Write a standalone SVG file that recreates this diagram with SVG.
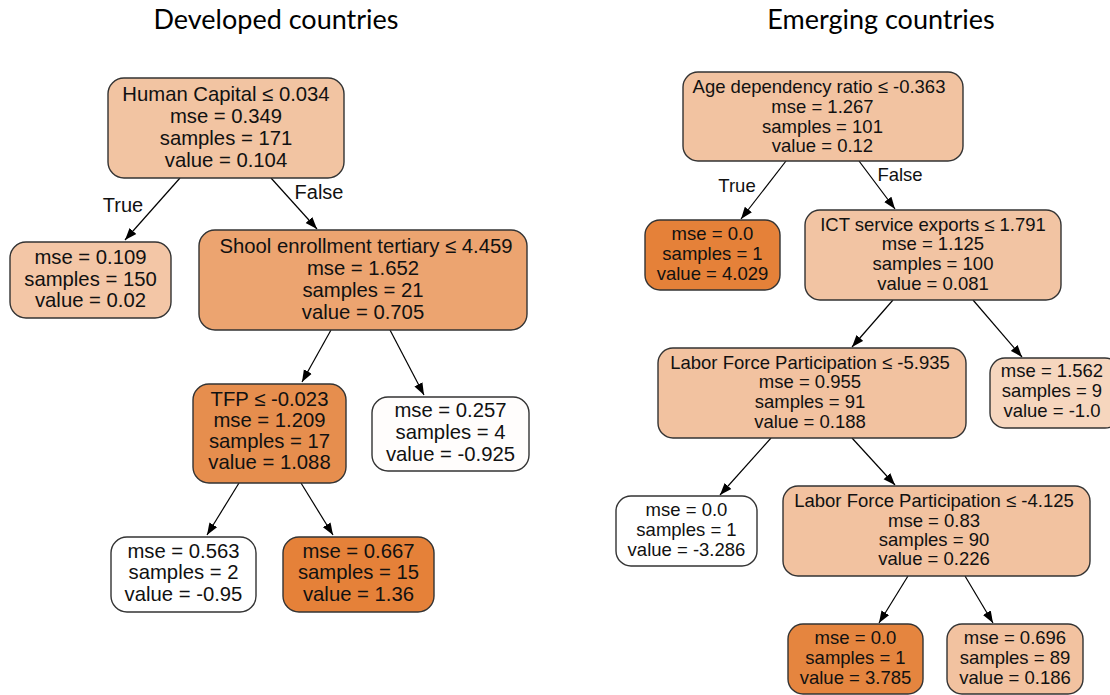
<svg xmlns="http://www.w3.org/2000/svg" width="1110" height="695" viewBox="0 0 1110 695">
<defs>
<marker id="ah" markerWidth="12" markerHeight="10" refX="12" refY="5" orient="auto" markerUnits="userSpaceOnUse">
<path d="M0,0.5 L12,5 L0,9.5 Z" fill="#000"/>
</marker>
<style>
.n{stroke:#333;stroke-width:1.4}
.t{font-family:"Liberation Sans",Arial,sans-serif;font-size:20.3px;fill:#111;text-anchor:middle}
.r{font-family:"Liberation Sans",Arial,sans-serif;font-size:18.5px;fill:#111;text-anchor:middle}
.h{font-family:Lato,"Liberation Sans",sans-serif;font-size:27px;fill:#000;text-anchor:middle}
.e{stroke:#000;stroke-width:1.2;fill:none;marker-end:url(#ah)}
.lbl{font-family:"Liberation Sans",Arial,sans-serif;font-size:20px;fill:#111;text-anchor:middle}
</style>
</defs>
<rect width="1110" height="695" fill="#fff"/>
<text class="h" x="276" y="29">Developed countries</text>
<text class="h" x="881" y="29">Emerging countries</text>

<g id="connectors">
<line class="e" x1="180" y1="178" x2="125" y2="240"/>
<line class="e" x1="271" y1="178" x2="317" y2="229"/>
<line class="e" x1="331" y1="330" x2="302" y2="382"/>
<line class="e" x1="390" y1="330" x2="424" y2="395"/>
<line class="e" x1="239" y1="483" x2="207" y2="535"/>
<line class="e" x1="301" y1="483" x2="333" y2="535"/>
<text class="lbl" x="123" y="212">True</text>
<text class="lbl" x="319" y="199">False</text>

<line class="e" x1="786" y1="161" x2="741" y2="219"/>
<line class="e" x1="859" y1="161" x2="895" y2="209"/>
<line class="e" x1="893" y1="300" x2="852" y2="347"/>
<line class="e" x1="973" y1="300" x2="1022" y2="357"/>
<line class="e" x1="771" y1="438" x2="720" y2="495"/>
<line class="e" x1="852" y1="438" x2="895" y2="485"/>
<line class="e" x1="908" y1="576" x2="879" y2="623"/>
<line class="e" x1="965" y1="576" x2="993" y2="623"/>
<text class="r" x="737" y="192">True</text>
<text class="r" x="900" y="181">False</text>
</g>

<g id="dev_root">
<rect class="n" x="108" y="78" width="236" height="100" rx="16" fill="#f2c4a2"/>
<text class="t" x="226" y="101">Human Capital ≤ 0.034</text>
<text class="t" x="226" y="123">mse = 0.349</text>
<text class="t" x="226" y="145">samples = 171</text>
<text class="t" x="226" y="167">value = 0.104</text>
</g>
<g id="dev_leaf_true">
<rect class="n" x="10" y="242" width="161" height="76" rx="16" fill="#f3c6a6"/>
<text class="t" x="90.5" y="264">mse = 0.109</text>
<text class="t" x="90.5" y="286">samples = 150</text>
<text class="t" x="90.5" y="307">value = 0.02</text>
</g>
<g id="dev_school">
<rect class="n" x="199" y="230" width="328" height="100" rx="16" fill="#eca470"/>
<text class="t" x="366" y="253">Shool enrollment tertiary ≤ 4.459</text>
<text class="t" x="363" y="275">mse = 1.652</text>
<text class="t" x="363" y="297">samples = 21</text>
<text class="t" x="363" y="319">value = 0.705</text>
</g>
<g id="dev_tfp">
<rect class="n" x="193" y="384" width="153" height="99" rx="16" fill="#e68e4e"/>
<text class="t" x="269.5" y="406">TFP ≤ -0.023</text>
<text class="t" x="269.5" y="427">mse = 1.209</text>
<text class="t" x="269.5" y="448">samples = 17</text>
<text class="t" x="269.5" y="469">value = 1.088</text>
</g>
<g id="dev_leaf_0257">
<rect class="n" x="372" y="397" width="157" height="74" rx="16" fill="#fffdfc"/>
<text class="t" x="450.5" y="417">mse = 0.257</text>
<text class="t" x="450.5" y="439">samples = 4</text>
<text class="t" x="450.5" y="461">value = -0.925</text>
</g>
<g id="dev_leaf_0563">
<rect class="n" x="111" y="537" width="145" height="75" rx="16" fill="#ffffff"/>
<text class="t" x="183.5" y="558">mse = 0.563</text>
<text class="t" x="183.5" y="579">samples = 2</text>
<text class="t" x="183.5" y="601">value = -0.95</text>
</g>
<g id="dev_leaf_0667">
<rect class="n" x="283" y="537" width="151" height="75" rx="16" fill="#e58139"/>
<text class="t" x="358.5" y="558">mse = 0.667</text>
<text class="t" x="358.5" y="579">samples = 15</text>
<text class="t" x="358.5" y="601">value = 1.36</text>
</g>

<g id="em_root">
<rect class="n" x="683" y="72" width="280" height="89" rx="15" fill="#f2c3a1"/>
<text class="r" x="819" y="93">Age dependency ratio ≤ -0.363</text>
<text class="r" x="822.5" y="113">mse = 1.267</text>
<text class="r" x="822.5" y="133">samples = 101</text>
<text class="r" x="822.5" y="152">value = 0.12</text>
</g>
<g id="em_leaf_true">
<rect class="n" x="645" y="220" width="135" height="70" rx="15" fill="#e58139"/>
<text class="r" x="712.5" y="240">mse = 0.0</text>
<text class="r" x="712.5" y="260">samples = 1</text>
<text class="r" x="712.5" y="280">value = 4.029</text>
</g>
<g id="em_ict">
<rect class="n" x="805" y="210" width="256" height="90" rx="15" fill="#f2c4a3"/>
<text class="r" x="933" y="231">ICT service exports ≤ 1.791</text>
<text class="r" x="933" y="250">mse = 1.125</text>
<text class="r" x="933" y="270">samples = 100</text>
<text class="r" x="933" y="290">value = 0.081</text>
</g>
<g id="em_lfp1">
<rect class="n" x="658" y="348" width="308" height="90" rx="15" fill="#f2c2a0"/>
<text class="r" x="810" y="369">Labor Force Participation ≤ -5.935</text>
<text class="r" x="810" y="388">mse = 0.955</text>
<text class="r" x="810" y="408">samples = 91</text>
<text class="r" x="810" y="428">value = 0.188</text>
</g>
<g id="em_leaf_1562">
<rect class="n" x="990" y="358" width="130" height="70" rx="15" fill="#f6d6be"/>
<text class="r" x="1052" y="377">mse = 1.562</text>
<text class="r" x="1052" y="397">samples = 9</text>
<text class="r" x="1052" y="417">value = -1.0</text>
</g>
<g id="em_leaf_m3286">
<rect class="n" x="616" y="496" width="141" height="70" rx="15" fill="#ffffff"/>
<text class="r" x="686.5" y="516">mse = 0.0</text>
<text class="r" x="686.5" y="536">samples = 1</text>
<text class="r" x="686.5" y="556">value = -3.286</text>
</g>
<g id="em_lfp2">
<rect class="n" x="783" y="486" width="307" height="90" rx="15" fill="#f2c2a0"/>
<text class="r" x="934" y="507">Labor Force Participation ≤ -4.125</text>
<text class="r" x="934" y="527">mse = 0.83</text>
<text class="r" x="934" y="546">samples = 90</text>
<text class="r" x="934" y="565">value = 0.226</text>
</g>
<g id="em_leaf_3785">
<rect class="n" x="788" y="624" width="135" height="70" rx="15" fill="#e5853f"/>
<text class="r" x="855.5" y="644">mse = 0.0</text>
<text class="r" x="855.5" y="664">samples = 1</text>
<text class="r" x="855.5" y="684">value = 3.785</text>
</g>
<g id="em_leaf_0186">
<rect class="n" x="947" y="624" width="136" height="70" rx="15" fill="#f2c2a0"/>
<text class="r" x="1015" y="644">mse = 0.696</text>
<text class="r" x="1015" y="664">samples = 89</text>
<text class="r" x="1015" y="684">value = 0.186</text>
</g>
</svg>
